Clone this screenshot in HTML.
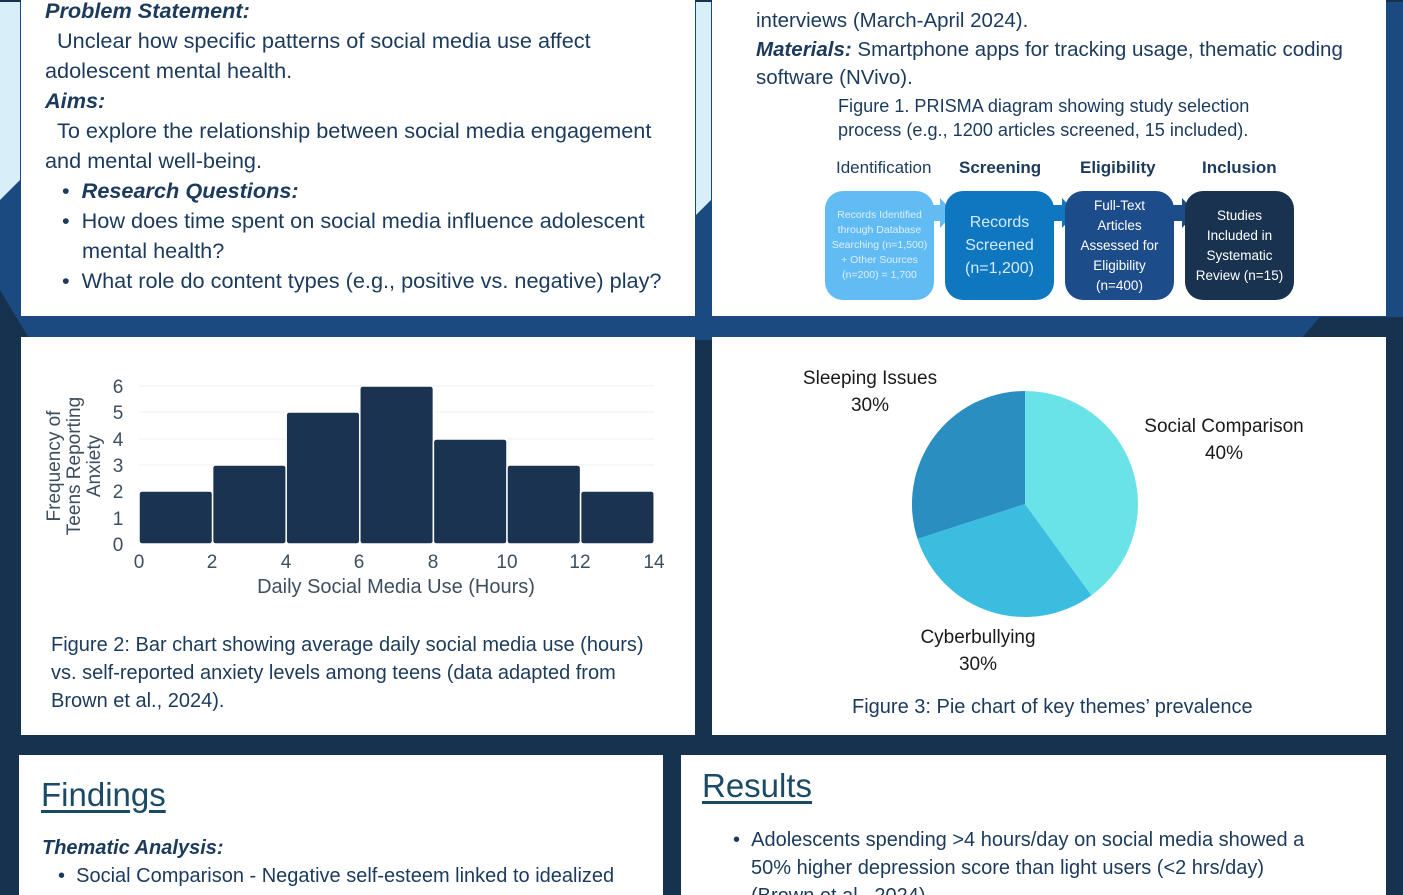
<!DOCTYPE html>
<html style="width:1403px;height:895px;overflow:hidden"><head><meta charset="utf-8"><style>
*{margin:0;padding:0;box-sizing:border-box}
body{width:1403px;height:895px;overflow:hidden;position:relative;background:#17324f;font-family:"Liberation Sans",Arial,sans-serif;color:#1b3a5c}
.p{position:absolute;background:#fff}
.t{position:absolute;white-space:nowrap;font-size:21px;color:#1b3a5c}
.l{font-size:21.7px}
.r{font-size:20.5px}
.bi{font-weight:bold;font-style:italic}
.box{position:absolute;top:191px;width:109px;height:109px;border-radius:18px;color:#fff;display:flex;align-items:center;justify-content:center;text-align:center}
.h{position:absolute;font-size:33px;text-decoration:underline;color:#1b4a66;text-underline-offset:4px}
</style></head><body>
<svg width="1403" height="895" style="position:absolute;left:0;top:0">
<polygon points="0,0 1403,0 1403,340 0,340" fill="#1a4a80"/>
<polygon points="0,0 20,0 20,180 0,200" fill="#d8eff9"/>
<polygon points="696,0 711,0 711,200 696,215" fill="#d8eff9"/>
<polygon points="0,290 30,340 0,340" fill="#17324f"/>
<polygon points="1320,317 1403,317 1403,340 1300,340" fill="#17324f"/>
<rect x="0" y="0" width="1403" height="2" fill="#17324f"/>
</svg>
<div class="p" style="left:21px;top:0;width:674px;height:316px"></div>
<div class="p" style="left:712px;top:0;width:674px;height:316px"></div>
<div class="p" style="left:21px;top:337px;width:674px;height:398px"></div>
<div class="p" style="left:712px;top:337px;width:674px;height:398px"></div>
<div class="p" style="left:19px;top:755px;width:644px;height:140px"></div>
<div class="p" style="left:681px;top:755px;width:705px;height:140px"></div>

<div class="t l bi" style="left:45px;top:-2px">Problem Statement:</div>
<div class="t l" style="left:57px;top:28px">Unclear how specific patterns of social media use affect</div>
<div class="t l" style="left:45px;top:58px">adolescent mental health.</div>
<div class="t l bi" style="left:45px;top:88px">Aims:</div>
<div class="t l" style="left:57px;top:118px">To explore the relationship between social media engagement</div>
<div class="t l" style="left:45px;top:148px">and mental well-being.</div>
<div class="t l" style="left:62px;top:178px">• <span class="bi">&nbsp;Research Questions:</span></div>
<div class="t l" style="left:62px;top:208px">• &nbsp;How does time spent on social media influence adolescent</div>
<div class="t l" style="left:82px;top:238px">mental health?</div>
<div class="t l" style="left:62px;top:268px">• &nbsp;What role do content types (e.g., positive vs. negative) play?</div>

<div class="t r" style="left:756px;top:9px">interviews (March-April 2024).</div>
<div class="t r" style="left:756px;top:38px"><span class="bi">Materials:</span> Smartphone apps for tracking usage, thematic coding</div>
<div class="t r" style="left:756px;top:66px">software (NVivo).</div>
<div class="t" style="left:838px;top:96px;font-size:18.1px">Figure 1. PRISMA diagram showing study selection</div>
<div class="t" style="left:838px;top:120px;font-size:18.1px">process (e.g., 1200 articles screened, 15 included).</div>
<div class="t" style="left:836px;top:158px;font-size:17px">Identification</div>
<div class="t" style="left:959px;top:158px;font-size:17px;font-weight:bold">Screening</div>
<div class="t" style="left:1080px;top:158px;font-size:17px;font-weight:bold">Eligibility</div>
<div class="t" style="left:1202px;top:158px;font-size:17px;font-weight:bold">Inclusion</div>
<svg width="1403" height="895" style="position:absolute;left:0;top:0">
<polygon points="930,205 940,205 940,198 954,213 940,228 940,221 930,221" fill="#62bcf4"/>
<polygon points="1050,205 1062,205 1062,198 1076,213 1062,228 1062,221 1050,221" fill="#0f77bf"/>
<polygon points="1170,205 1182,205 1182,198 1196,213 1182,228 1182,221 1170,221" fill="#1d4c8a"/>
</svg>
<div class="box" style="left:825px;background:#62bcf4;color:#dcefff;font-size:10.5px;line-height:15px">Records Identified<br>through Database<br>Searching (n=1,500)<br>+ Other Sources<br>(n=200) = 1,700</div>
<div class="box" style="left:945px;background:#0f77bf;color:#d5ecfb;font-size:16px;line-height:23px">Records<br>Screened<br>(n=1,200)</div>
<div class="box" style="left:1065px;background:#1d4c8a;font-size:13.5px;line-height:20px">Full-Text<br>Articles<br>Assessed for<br>Eligibility<br>(n=400)</div>
<div class="box" style="left:1185px;background:#18324f;font-size:13.5px;line-height:20px">Studies<br>Included in<br>Systematic<br>Review (n=15)</div>

<svg width="1403" height="895" style="position:absolute;left:0;top:0;font-family:'Liberation Sans',Arial,sans-serif">
<g stroke="#eef0f2" stroke-width="1">
<line x1="139" x2="654" y1="386" y2="386"/><line x1="139" x2="654" y1="412" y2="412"/><line x1="139" x2="654" y1="439" y2="439"/><line x1="139" x2="654" y1="465" y2="465"/><line x1="139" x2="654" y1="491" y2="491"/><line x1="139" x2="654" y1="518" y2="518"/></g>
<g fill="#1a3350" stroke="#fff" stroke-width="1.5">
<rect x="139" y="491" width="73.6" height="53" rx="3"/>
<rect x="212.6" y="465" width="73.6" height="79" rx="3"/>
<rect x="286.2" y="412" width="73.6" height="132" rx="3"/>
<rect x="359.8" y="386" width="73.6" height="158" rx="3"/>
<rect x="433.4" y="439" width="73.6" height="105" rx="3"/>
<rect x="507" y="465" width="73.6" height="79" rx="3"/>
<rect x="580.6" y="491" width="73.6" height="53" rx="3"/>
</g>
<g fill="#3d4f5e" font-size="19" text-anchor="middle">
<text x="139" y="568">0</text><text x="212" y="568">2</text><text x="286" y="568">4</text><text x="359" y="568">6</text><text x="433" y="568">8</text><text x="507" y="568">10</text><text x="580" y="568">12</text><text x="654" y="568">14</text>
<text x="118" y="551">0</text><text x="118" y="525">1</text><text x="118" y="498">2</text><text x="118" y="472">3</text><text x="118" y="446">4</text><text x="118" y="419">5</text><text x="118" y="393">6</text>
<text x="396" y="593" font-size="20">Daily Social Media Use (Hours)</text>
<g font-size="19" transform="rotate(-90)"><text x="-466" y="60">Frequency of</text><text x="-466" y="80">Teens Reporting</text><text x="-466" y="100">Anxiety</text></g>
</g>
<path d="M1025,504 L1025,391 A113,113 0 0 1 1091.4,595.4 Z" fill="#6ae3e8"/>
<path d="M1025,504 L1091.4,595.4 A113,113 0 0 1 917.5,538.9 Z" fill="#3bbde0"/>
<path d="M1025,504 L917.5,538.9 A113,113 0 0 1 1025,391 Z" fill="#2a8fc0"/>
<g fill="#1a1a1a" font-size="19" text-anchor="middle">
<text x="870" y="384">Sleeping Issues</text><text x="870" y="411">30%</text>
<text x="1224" y="432">Social Comparison</text><text x="1224" y="459">40%</text>
<text x="978" y="643">Cyberbullying</text><text x="978" y="670">30%</text>
</g>
</svg>
<div class="t" style="left:51px;top:634px;font-size:20px">Figure 2: Bar chart showing average daily social media use (hours)</div>
<div class="t" style="left:51px;top:662px;font-size:20px">vs. self-reported anxiety levels among teens (data adapted from</div>
<div class="t" style="left:51px;top:690px;font-size:20px">Brown et al., 2024).</div>
<div class="t" style="left:852px;top:696px;font-size:20px">Figure 3: Pie chart of key themes’ prevalence</div>

<div class="h" style="left:41px;top:776px">Findings</div>
<div class="t bi" style="left:42px;top:837px;font-size:20px">Thematic Analysis:</div>
<div class="t" style="left:58px;top:865px;font-size:20px">• &nbsp;Social Comparison - Negative self-esteem linked to idealized</div>
<div class="h" style="left:702px;top:767px">Results</div>
<div class="t" style="left:733px;top:829px;font-size:20px">• &nbsp;Adolescents spending &gt;4 hours/day on social media showed a</div>
<div class="t" style="left:751px;top:857px;font-size:20px">50% higher depression score than light users (&lt;2 hrs/day)</div>
<div class="t" style="left:751px;top:885px;font-size:20px;height:10px;overflow:hidden">(Brown et al., 2024).</div>
</body></html>
